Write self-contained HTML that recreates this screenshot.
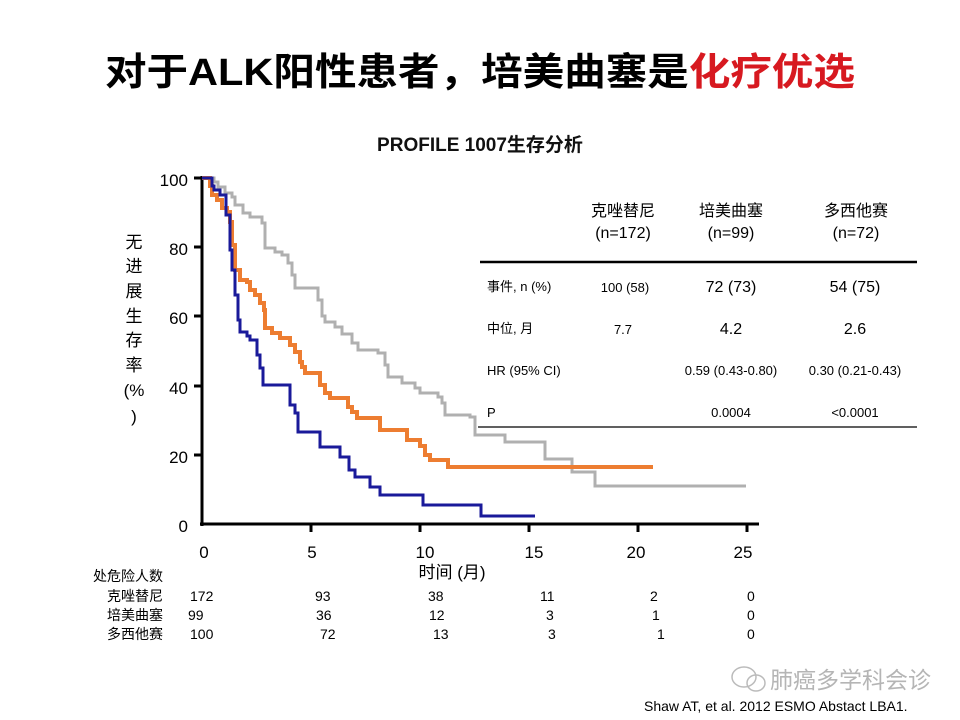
<!DOCTYPE html>
<html><head><meta charset="utf-8"><style>
html,body{margin:0;padding:0;background:#fff;width:960px;height:720px;overflow:hidden}
svg{display:block}
text{font-family:"Liberation Sans","Noto Sans CJK SC",sans-serif}
</style></head><body>
<svg width="960" height="720" viewBox="0 0 960 720" xmlns="http://www.w3.org/2000/svg">
<text x="480" y="85" text-anchor="middle" font-size="38" font-weight="bold" textLength="750" lengthAdjust="spacingAndGlyphs" fill="#000">对于ALK阳性患者，培美曲塞是<tspan fill="#d71920">化疗优选</tspan></text>
<text x="480" y="151" text-anchor="middle" font-size="19" font-weight="bold" fill="#111">PROFILE 1007生存分析</text>

<!-- axes -->
<g stroke="#000" stroke-width="3" fill="none">
<line x1="202" y1="176" x2="202" y2="526"/>
<line x1="200" y1="524" x2="759" y2="524"/>
<line x1="194" y1="178" x2="202" y2="178"/>
<line x1="194" y1="247" x2="202" y2="247"/>
<line x1="194" y1="316" x2="202" y2="316"/>
<line x1="194" y1="386" x2="202" y2="386"/>
<line x1="194" y1="455" x2="202" y2="455"/>
<line x1="311" y1="524" x2="311" y2="532"/>
<line x1="420" y1="524" x2="420" y2="532"/>
<line x1="529" y1="524" x2="529" y2="532"/>
<line x1="638" y1="524" x2="638" y2="532"/>
<line x1="747" y1="524" x2="747" y2="532"/>
</g>
<g font-size="17" text-anchor="end" fill="#000">
<text x="188" y="186">100</text><text x="188" y="255">80</text><text x="188" y="324">60</text><text x="188" y="394">40</text><text x="188" y="463">20</text><text x="188" y="532">0</text>
</g>
<g font-size="17" text-anchor="middle" fill="#000">
<text x="204" y="558">0</text><text x="312" y="558">5</text><text x="425" y="558">10</text><text x="534" y="558">15</text><text x="636" y="558">20</text><text x="743" y="558">25</text>
</g>
<text x="452" y="578" text-anchor="middle" font-size="17">时间 (月)</text>
<g font-size="17" text-anchor="middle">
<text x="134" y="248">无</text><text x="134" y="272">进</text><text x="134" y="297">展</text><text x="134" y="322">生</text><text x="134" y="346">存</text><text x="134" y="371">率</text><text x="134" y="396">(%</text><text x="134" y="422">)</text>
</g>

<!-- curves -->
<polyline fill="none" stroke="#b0b0b0" stroke-width="3" points="202,178 214,178 214,182 218,182 218,187 225,187 225,193 232,193 232,197 235,197 235,205 243,205 243,213 250,213 250,217 262,217 262,223 265,223 265,248 275,248 275,252 282,252 282,255 288,255 288,263 292,263 292,275 295,275 295,288 318,288 318,300 322,300 322,316 325,316 325,322 335,322 335,327 342,327 342,334 352,334 352,343 358,343 358,350 378,350 378,353 385,353 385,365 388,365 388,377 402,377 402,383 415,383 415,388 420,388 420,393 438,393 438,397 442,397 442,403 445,403 445,415 470,415 470,417 475,417 475,435 505,435 505,442 545,442 545,459 572,459 572,472 595,472 595,486 746,486"/>
<polyline fill="none" stroke="#ed7d31" stroke-width="4" points="202,178 210,178 210,186 212,186 212,195 217,195 217,200 222,200 222,208 227,208 227,212 230,212 230,222 232,222 232,245 235,245 235,270 240,270 240,280 247,280 247,282 250,282 250,290 255,290 255,295 260,295 260,303 264,303 264,310 265,310 265,328 272,328 272,333 280,333 280,338 290,338 290,345 295,345 295,352 300,352 300,362 302,362 302,367 305,367 305,373 320,373 320,385 325,385 325,393 330,393 330,398 348,398 348,407 352,407 352,412 357,412 357,418 380,418 380,430 407,430 407,440 420,440 420,446 425,446 425,455 430,455 430,460 448,460 448,467 653,467"/>
<polyline fill="none" stroke="#1a1a9a" stroke-width="3" points="202,178 212,178 212,186 214,186 214,190 220,190 220,195 226,195 226,215 230,215 230,250 232,250 232,270 235,270 235,295 238,295 238,320 240,320 240,332 247,332 247,336 250,336 250,340 257,340 257,355 260,355 260,368 263,368 263,385 290,385 290,405 295,405 295,413 298,413 298,432 320,432 320,447 340,447 340,457 349,457 349,470 355,470 355,477 370,477 370,487 380,487 380,495 423,495 423,505 481,505 481,516 535,516"/>

<!-- table -->
<line x1="480" y1="262" x2="917" y2="262" stroke="#000" stroke-width="2.5"/>
<line x1="478" y1="427" x2="917" y2="427" stroke="#000" stroke-width="1.3"/>
<g font-size="16" text-anchor="middle" fill="#000">
<text x="623" y="216">克唑替尼</text><text x="623" y="238">(n=172)</text>
<text x="731" y="216">培美曲塞</text><text x="731" y="238">(n=99)</text>
<text x="856" y="216">多西他赛</text><text x="856" y="238">(n=72)</text>
</g>
<g font-size="13" fill="#000">
<text x="487" y="291">事件, n (%)</text>
<text x="487" y="333">中位, 月</text>
<text x="487" y="375">HR (95% CI)</text>
<text x="487" y="417">P</text>
</g>
<g font-size="13" text-anchor="middle" fill="#000">
<text x="625" y="292">100 (58)</text><text x="623" y="334">7.7</text>
<text x="731" y="375">0.59 (0.43-0.80)</text><text x="855" y="375">0.30 (0.21-0.43)</text>
<text x="731" y="417">0.0004</text><text x="855" y="417">&lt;0.0001</text>
</g>
<g font-size="16" text-anchor="middle" fill="#000">
<text x="731" y="292">72 (73)</text><text x="855" y="292">54 (75)</text>
<text x="731" y="334">4.2</text><text x="855" y="334">2.6</text>
</g>

<!-- at risk -->
<g font-size="14" fill="#000">
<text x="163" y="581" text-anchor="end">处危险人数</text>
<text x="163" y="601" text-anchor="end">克唑替尼</text>
<text x="163" y="620" text-anchor="end">培美曲塞</text>
<text x="163" y="639" text-anchor="end">多西他赛</text>
<text x="190" y="601">172</text><text x="315" y="601">93</text><text x="428" y="601">38</text><text x="540" y="601">11</text><text x="650" y="601">2</text><text x="747" y="601">0</text>
<text x="188" y="620">99</text><text x="316" y="620">36</text><text x="429" y="620">12</text><text x="546" y="620">3</text><text x="652" y="620">1</text><text x="747" y="620">0</text>
<text x="190" y="639">100</text><text x="320" y="639">72</text><text x="433" y="639">13</text><text x="548" y="639">3</text><text x="657" y="639">1</text><text x="747" y="639">0</text>
</g>

<!-- watermark -->
<g fill="none" stroke="#bbb" stroke-width="1.5">
<ellipse cx="744" cy="677" rx="12" ry="10"/>
<ellipse cx="756" cy="683" rx="9" ry="8"/>
</g>
<text x="770" y="688" font-size="23" fill="#b5b5b5">肺癌多学科会诊</text>
<text x="644" y="711" font-size="14" fill="#000">Shaw AT, et al. 2012  ESMO Abstact LBA1.</text>
</svg>
</body></html>
